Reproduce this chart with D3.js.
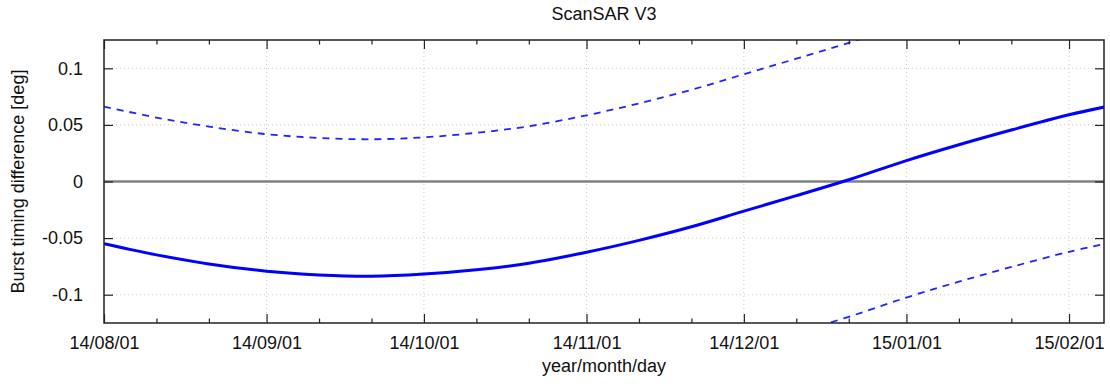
<!DOCTYPE html>
<html>
<head>
<meta charset="utf-8">
<script src="https://cdn.jsdelivr.net/npm/d3@7"></script>
<style>
  html, body { margin: 0; padding: 0; background: #fff; }
  svg { display: block; font-family: "Liberation Sans", Arial, Helvetica, sans-serif; }
</style>
</head>
<body>
<svg id="chart" width="1110" height="388"></svg>
<script>
// ---- data ----
const title = "ScanSAR V3";
const xLabel = "year/month/day";
const yLabel = "Burst timing difference [deg]";

const solidDates = ["2014-08-01","2014-08-11","2014-08-21","2014-09-01","2014-09-11","2014-09-21",
  "2014-10-01","2014-10-11","2014-10-21","2014-11-01","2014-11-11","2014-11-21","2014-12-01",
  "2014-12-11","2014-12-21","2015-01-01","2015-01-11","2015-01-21","2015-02-01","2015-02-08"];
const solidValues = [-0.0550,-0.0648,-0.0728,-0.0792,-0.0825,-0.0837,
  -0.0818,-0.0780,-0.0722,-0.0625,-0.0520,-0.0400,-0.0262,
  -0.0125,0.0015,0.0185,0.0325,0.0455,0.0589,0.0660];

const upperDates = ["2014-08-01","2014-08-11","2014-08-21","2014-09-01","2014-09-11","2014-09-21",
  "2014-10-01","2014-10-11","2014-10-21","2014-11-01","2014-11-11","2014-11-21","2014-12-01",
  "2014-12-11","2014-12-21","2015-01-01"];
const upperValues = [0.0662,0.0565,0.0485,0.0418,0.0385,0.0373,
  0.0390,0.0430,0.0488,0.0585,0.0690,0.0810,0.0948,
  0.1085,0.1225,0.1395];

const lowerDates = ["2014-12-01","2014-12-11","2014-12-21","2015-01-01","2015-01-11","2015-01-21","2015-02-01","2015-02-08"];
const lowerValues = [-0.1472,-0.1335,-0.1195,-0.1025,-0.0885,-0.0755,-0.0621,-0.0550];

const yTicks = [-0.1, -0.05, 0, 0.05, 0.1];
const yTickLabels = ["-0.1", "-0.05", "0", "0.05", "0.1"];
const xTickLabels = ["14/08/01","14/09/01","14/10/01","14/11/01","14/12/01","15/01/01","15/02/01"];
const xDomain = ["2014-08-01T00:00:00Z", "2015-02-07T16:00:00Z"];
const yDomain = [-0.125, 0.125];

// ---- layout ----
const W = 1110, H = 388;
const m = { left: 104, right: 6, top: 40, bottom: 65 };
const iw = W - m.left - m.right, ih = H - m.top - m.bottom;

const svg = d3.select("#chart");
const parse = s => new Date(s.length === 10 ? s + "T00:00:00Z" : s);

const x = d3.scaleUtc().domain(xDomain.map(parse)).range([0, iw]);
const y = d3.scaleLinear().domain(yDomain).range([ih, 0]);

const g = svg.append("g").attr("transform", `translate(${m.left},${m.top})`);

svg.append("defs").append("clipPath").attr("id", "clip")
  .append("rect").attr("x", 0).attr("y", 0).attr("width", iw).attr("height", ih);

// major/minor x ticks
const majorX = d3.utcMonth.range(parse("2014-08-01"), parse("2015-02-08"));
const minorX = d3.utcDay.range(parse("2014-08-01"), parse("2015-02-08"))
  .filter(d => d.getUTCDate() === 11 || d.getUTCDate() === 21);

// grid
const grid = g.append("g").attr("stroke", "#c8c8c8").attr("stroke-width", 1).attr("stroke-dasharray", "1,3");
grid.selectAll(".gx").data(majorX.slice(1)).join("line")
  .attr("x1", d => x(d)).attr("x2", d => x(d)).attr("y1", 0).attr("y2", ih);
grid.selectAll(".gy").data(yTicks).join("line")
  .attr("x1", 0).attr("x2", iw).attr("y1", d => y(d)).attr("y2", d => y(d));

// zero line
g.append("line").attr("x1", 0).attr("x2", iw).attr("y1", y(0)).attr("y2", y(0))
  .attr("stroke", "#808080").attr("stroke-width", 2.5);

// series
const mk = (dates, vals) => dates.map((d, i) => ({ d: parse(d), v: vals[i] }));
const line = d3.line().x(p => x(p.d)).y(p => y(p.v)).curve(d3.curveCatmullRom);
const plot = g.append("g").attr("clip-path", "url(#clip)");
plot.append("path").datum(mk(upperDates, upperValues)).attr("d", line)
  .attr("fill", "none").attr("stroke", "#2222ff").attr("stroke-width", 1.8).attr("stroke-dasharray", "7,6");
plot.append("path").datum(mk(lowerDates, lowerValues)).attr("d", line)
  .attr("fill", "none").attr("stroke", "#2222ff").attr("stroke-width", 1.8).attr("stroke-dasharray", "7,6");
plot.append("path").datum(mk(solidDates, solidValues)).attr("d", line)
  .attr("fill", "none").attr("stroke", "#0000ff").attr("stroke-width", 3);

// axes (gnuplot style: inward ticks, mirrored)
const fmtX = d3.utcFormat("%y/%m/%d");
const bottomAxis = d3.axisBottom(x).tickValues(majorX).tickSizeInner(-9).tickSizeOuter(0)
  .tickPadding(18).tickFormat((d, i) => xTickLabels[i] || fmtX(d));
const gb = g.append("g").attr("transform", `translate(0,${ih})`).call(bottomAxis);
const topAxis = d3.axisTop(x).tickValues(majorX).tickSizeInner(-9).tickSizeOuter(0).tickFormat("");
const gt = g.append("g").call(topAxis);
const bottomMinor = d3.axisBottom(x).tickValues(minorX).tickSizeInner(-4.5).tickSizeOuter(0).tickFormat("");
const gbm = g.append("g").attr("transform", `translate(0,${ih})`).call(bottomMinor);
const topMinor = d3.axisTop(x).tickValues(minorX).tickSizeInner(-4.5).tickSizeOuter(0).tickFormat("");
const gtm = g.append("g").call(topMinor);

const leftAxis = d3.axisLeft(y).tickValues(yTicks).tickSizeInner(-9).tickSizeOuter(0)
  .tickPadding(21).tickFormat((d, i) => yTickLabels[i]);
const gl = g.append("g").call(leftAxis);
const rightAxis = d3.axisRight(y).tickValues(yTicks).tickSizeInner(-9).tickSizeOuter(0).tickFormat("");
const gr = g.append("g").attr("transform", `translate(${iw},0)`).call(rightAxis);

[gb, gt, gbm, gtm, gl, gr].forEach(a => {
  a.select(".domain").remove();
  a.selectAll(".tick line").attr("stroke", "#222").attr("stroke-width", 1.2);
  a.selectAll("text").attr("font-size", 18).attr("fill", "#111")
    .attr("font-family", '"Liberation Sans", Arial, sans-serif');
});
gb.selectAll("text").attr("dy", "0.71em").attr("y", 13);

// frame
g.append("rect").attr("x", 0).attr("y", 0).attr("width", iw).attr("height", ih)
  .attr("fill", "none").attr("stroke", "#222").attr("stroke-width", 1.5);

// titles
svg.append("text").attr("x", m.left + iw / 2).attr("y", 20).attr("text-anchor", "middle")
  .attr("font-size", 18).attr("fill", "#111").text(title);
svg.append("text").attr("x", m.left + iw / 2).attr("y", 372).attr("text-anchor", "middle")
  .attr("font-size", 18).attr("fill", "#111").text(xLabel);
svg.append("text").attr("transform", `translate(24,${m.top + ih / 2}) rotate(-90)`)
  .attr("text-anchor", "middle").attr("font-size", 18).attr("fill", "#111").text(yLabel);
</script>
</body>
</html>
